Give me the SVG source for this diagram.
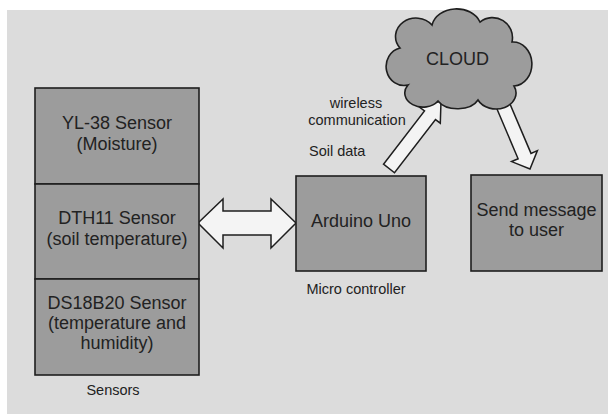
<svg xmlns="http://www.w3.org/2000/svg" width="608" height="414" viewBox="0 0 608 414">
<style>
.box{fill:#9c9c9c;stroke:#1e1e1e;stroke-width:1.6}
.arrow{fill:#f4f4f4;stroke:#1e1e1e;stroke-width:1.5;stroke-linejoin:miter}
.t{font-family:"Liberation Sans",Arial,sans-serif;fill:#222;text-anchor:middle}
.big{font-size:18px}
.small{font-size:14.5px}
</style>
<rect x="0" y="0" width="608" height="414" fill="#ffffff"/>
<rect x="7" y="10" width="601" height="404" fill="#dcdcdc"/>
<g id="connectors">
<polygon class="arrow" points="198,223 223,199 223,211 271,211 271,199 296,223 271,248 271,235 223,235 223,248"/>
<polygon class="arrow" points="383.5,164.2 424.5,111 419.7,107.4 441,101 440.3,123.2 435.5,119.6 394.5,172.8"/>
<polygon class="arrow" points="495.6,105.7 518.1,158.8 511.6,161.6 530,169 537.4,150.6 531,153.4 508.4,100.3"/>
</g>
<g id="yl38">
<rect class="box" x="35" y="88" width="164" height="96"/>
<text class="t big" x="117" y="129">YL-38 Sensor</text>
<text class="t big" x="117" y="150">(Moisture)</text>
</g>
<g id="dth11">
<rect class="box" x="35" y="184" width="164" height="95"/>
<text class="t big" x="117" y="224">DTH11 Sensor</text>
<text class="t big" x="117" y="245">(soil temperature)</text>
</g>
<g id="ds18b20">
<rect class="box" x="35" y="279" width="164" height="96"/>
<text class="t big" x="117" y="309">DS18B20 Sensor</text>
<text class="t big" x="117" y="329">(temperature and</text>
<text class="t big" x="117" y="349">humidity)</text>
</g>
<g id="sensors-label">
<text class="t small" x="113" y="395">Sensors</text>
</g>
<g id="arduino">
<rect class="box" x="296" y="176" width="130" height="95"/>
<text class="t big" x="361" y="227">Arduino Uno</text>
<text class="t small" x="356" y="294">Micro controller</text>
</g>
<g id="labels">
<text class="t small" x="356" y="108">wireless</text>
<text class="t small" x="357" y="125">communication</text>
<text class="t small" x="309" y="156" style="text-anchor:start">Soil data</text>
</g>
<g id="cloud">
<path class="box" stroke-width="2" d="M408,85 A16,17 0 0 1 400,48 A20,18 0 0 1 432,25 A25,20 0 0 1 480,22 A20,20 0 0 1 512,42 A18,21 0 0 1 514,86 A20,16 0 0 1 478,100 A22,14 0 0 1 438,101 A18,14 0 0 1 408,85 Z"/>
<text class="t big" x="457.5" y="65">CLOUD</text>
</g>
<g id="send">
<rect class="box" x="471" y="175" width="131" height="96"/>
<text class="t big" x="536.5" y="216">Send message</text>
<text class="t big" x="536.5" y="236">to user</text>
</g>
</svg>
